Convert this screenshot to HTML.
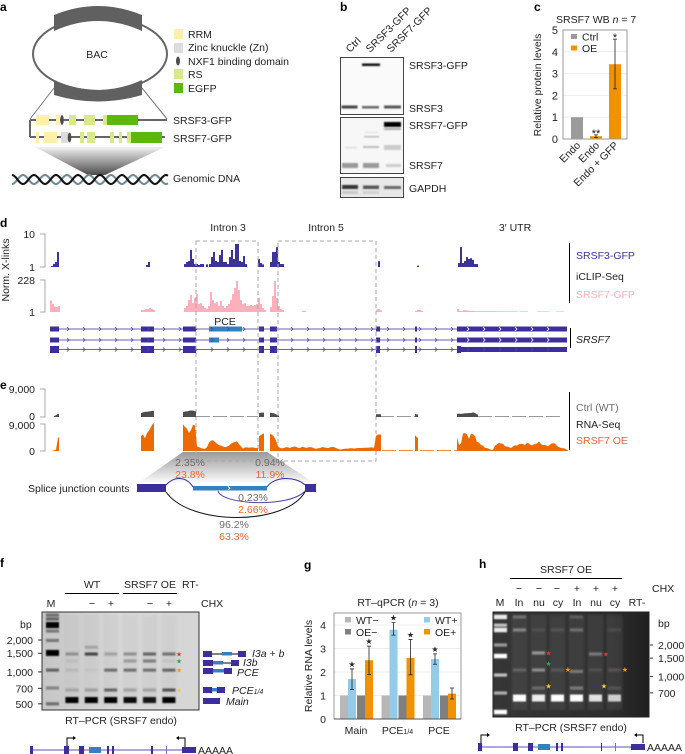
<!DOCTYPE html>
<html lang="en">
<head>
<meta charset="utf-8">
<title>SRSF7 figure</title>
<style>
html,body{margin:0;padding:0;background:#fff;}
svg{display:block;font-family:"Liberation Sans","DejaVu Sans",sans-serif;font-size:10.5px;fill:#222;filter:blur(0.3px);}
.pl{font-weight:bold;font-size:12px;fill:#000;}
.m{text-anchor:middle;}
.e{text-anchor:end;}
.dash{fill:none;stroke:#a8a8a8;stroke-width:1;stroke-dasharray:4 3;}
.gry{fill:#6b6b6b;}
.org{fill:#f2652e;}
.it{font-style:italic;}
</style>
</head>
<body>
<svg id="figure" xmlns="http://www.w3.org/2000/svg" width="685" height="754" viewBox="0 0 685 754">
<defs>
<linearGradient id="coneA" x1="0" y1="0" x2="0" y2="1"><stop offset="0" stop-color="#f2f2f2"/><stop offset="1" stop-color="#4c4c4c"/></linearGradient>
<linearGradient id="coneE" x1="0" y1="0" x2="0" y2="1"><stop offset="0" stop-color="#999"/><stop offset="1" stop-color="#ffffff"/></linearGradient>
<linearGradient id="gelF" x1="0" y1="0" x2="1" y2="0"><stop offset="0" stop-color="#c6c6c6"/><stop offset=".5" stop-color="#d8d8d8"/><stop offset="1" stop-color="#d6d6d6"/></linearGradient>
<linearGradient id="gelH" x1="0" y1="0" x2="1" y2="0"><stop offset="0" stop-color="#363636"/><stop offset=".75" stop-color="#2e2e2e"/><stop offset="1" stop-color="#1f1f1f"/></linearGradient>
<filter id="b1" x="-20%" y="-100%" width="140%" height="300%"><feGaussianBlur stdDeviation="0.8"/></filter>
<filter id="b2" x="-20%" y="-10%" width="140%" height="120%"><feGaussianBlur stdDeviation="1"/></filter>
<filter id="bandBlur" filterUnits="userSpaceOnUse" x="0" y="560" width="685" height="194"><feGaussianBlur stdDeviation="0.9"/></filter>
</defs>

<!-- panel a -->
<g>
<text class="pl" x="0" y="11">a</text>
<ellipse cx="100" cy="54" rx="67" ry="37" fill="none" stroke="#666" stroke-width="2"/>
<path d="M54 15 Q98 -3 142 15 L142 31 Q98 11 54 31 Z" fill="#606060"/>
<path d="M54 80 Q98 100 142 80 L142 95 Q98 108 54 95 Z" fill="#606060"/>
<text class="m" x="97" y="58">BAC</text>
<rect x="174" y="29" width="9" height="10" fill="#fdf0a8"/>
<rect x="174" y="43" width="9" height="10" fill="#dcdcdc"/>
<ellipse cx="178" cy="61" rx="2" ry="4.5" fill="#4e4e4e"/>
<rect x="174" y="69" width="9" height="10" fill="#d9e98a"/>
<rect x="174" y="83" width="9" height="10" fill="#5cb80c"/>
<text x="188" y="38">RRM</text>
<text x="188" y="51">Zinc knuckle (Zn)</text>
<text x="188" y="65">NXF1 binding domain</text>
<text x="188" y="78">RS</text>
<text x="188" y="92">EGFP</text>
<path d="M54 88 L30 119 M142 88 L167 119" stroke="#777" stroke-width="1" fill="none"/>
<path d="M30 120 H167 M30 120 V137 M30 137 H165" stroke="#666" stroke-width="2" fill="none"/>
<g>
<rect x="36" y="115" width="13" height="10" fill="#fdf0a8"/><rect x="56" y="115" width="4" height="10" fill="#fdf0a8"/><ellipse cx="62" cy="120" rx="1.8" ry="5" fill="#4e4e4e"/><rect x="69" y="115" width="7" height="10" fill="#d9e98a"/><rect x="84" y="115" width="11" height="10" fill="#d9e98a"/><rect x="103" y="115" width="5" height="10" fill="#d9e98a"/><rect x="107" y="115" width="31" height="10" fill="#5cb80c"/>
</g>
<g>
<rect x="36" y="132" width="3" height="11" fill="#fdf0a8"/><rect x="44" y="132" width="13" height="11" fill="#fdf0a8"/><rect x="61" y="132" width="7" height="11" fill="#dcdcdc"/><ellipse cx="69.500" cy="137.500" rx="1.800" ry="5" fill="#4e4e4e"/><rect x="80" y="132" width="4" height="11" fill="#d9e98a"/><rect x="87" y="132" width="8" height="11" fill="#d9e98a"/><rect x="110" y="132" width="4" height="11" fill="#d9e98a"/><rect x="119" y="132" width="3" height="11" fill="#d9e98a"/><rect x="127" y="132" width="4" height="11" fill="#d9e98a"/><rect x="131" y="132" width="31" height="11" fill="#5cb80c"/>
</g>
<text x="173" y="124">SRSF3-GFP</text>
<text x="173" y="142">SRSF7-GFP</text>
<polygon points="35,147 165,147 105,175 88,175" fill="url(#coneA)"/>
<g id="helix"></g>
<text x="173" y="182">Genomic DNA</text>
</g>

<!-- panel b -->
<g>
<text class="pl" x="340" y="11">b</text>
<text transform="translate(350,53) rotate(-45)">Ctrl</text>
<text transform="translate(370,53) rotate(-45)">SRSF3-GFP</text>
<text transform="translate(391,53) rotate(-45)">SRSF7-GFP</text>
<rect x="340.500" y="57.500" width="63" height="57" fill="#fafafa" stroke="#444"/>
<rect x="340.500" y="117.500" width="63" height="56" fill="#f7f7f7" stroke="#444"/>
<rect x="340.500" y="177.500" width="63" height="20" fill="#e8e8e8" stroke="#444"/>
<g filter="url(#b1)">
<rect x="362" y="63.500" width="18" height="2.500" fill="#111"/>
<rect x="341.500" y="105.500" width="16" height="3" fill="#444"/><rect x="362" y="106" width="17" height="2.500" fill="#666"/><rect x="384" y="105.500" width="17" height="3" fill="#555"/>
<rect x="384" y="122" width="17" height="5" fill="#000"/><rect x="384" y="128" width="17" height="2" fill="#aaa"/>
<rect x="364" y="136" width="15" height="1.500" fill="#bbb"/><rect x="365" y="132" width="13" height="1" fill="#ddd"/><rect x="345" y="147" width="12" height="1.500" fill="#ddd"/><rect x="363" y="146" width="16" height="2" fill="#bbb"/><rect x="384" y="145" width="17" height="5" fill="#ccc"/>
<rect x="342" y="163" width="16" height="5" fill="#999"/><rect x="363" y="163" width="16" height="5" fill="#999"/><rect x="386" y="164" width="15" height="3" fill="#ccc"/>
<rect x="342" y="185" width="16" height="4" fill="#333"/><rect x="363" y="185.500" width="16" height="3.500" fill="#555"/><rect x="384" y="186" width="17" height="3" fill="#666"/>
<rect x="342" y="191" width="16" height="3" fill="#c8c8c8"/><rect x="363" y="191" width="16" height="3" fill="#d2d2d2"/>
</g>
<text x="409" y="69">SRSF3-GFP</text>
<text x="409" y="112">SRSF3</text>
<text x="409" y="129">SRSF7-GFP</text>
<text x="409" y="169">SRSF7</text>
<text x="409" y="192">GAPDH</text>
</g>

<!-- panel c -->
<g id="panelC">
<text class="pl" x="534" y="11">c</text>
<text x="556" y="23">SRSF7 WB <tspan class="it">n</tspan> = 7</text>
<text class="m" transform="translate(541,85) rotate(-90)">Relative protein levels</text>
</g>

<!-- panel d / e static -->
<g id="panelD">
<text class="pl" x="0" y="227">d</text>
<text class="m" transform="translate(9,270) rotate(-90)">Norm. X-links</text>
<text class="e" x="35" y="238">10</text>
<text class="e" x="35" y="271">1</text>
<text class="e" x="35" y="284">228</text>
<text class="e" x="35" y="316">1</text>
<path d="M40 234H45V267H40 M40 280H45V312H40" fill="none" stroke="#aaa"/>
<text class="m" x="228" y="231">Intron 3</text>
<text class="m" x="326" y="231">Intron 5</text>
<text class="m" x="515" y="231">3′ UTR</text>
<text class="m" x="225" y="325">PCE</text>
<path d="M569.500 243V303" stroke="#000" fill="none"/>
<text x="576" y="259" fill="#3c3399" style="fill:#3c3399">SRSF3-GFP</text>
<text x="576" y="280">iCLIP-Seq</text>
<text x="576" y="298" style="fill:#fdb0bc">SRSF7-GFP</text>
<path d="M570.500 328V348" stroke="#000" fill="none"/>
<text class="it" x="576" y="343">SRSF7</text>
</g>

<g id="panelE">
<text class="pl" x="0" y="389">e</text>
<text class="e" x="35" y="393">9,000</text>
<text class="e" x="35" y="420">0</text>
<text class="e" x="35" y="429">9,000</text>
<text class="e" x="35" y="455">0</text>
<path d="M40 389H45V417H40 M40 424H45V451H40" fill="none" stroke="#aaa"/>
<path d="M569.500 392V450" stroke="#000" fill="none"/>
<text x="576" y="411" class="gry">Ctrl (WT)</text>
<text x="576" y="428">RNA-Seq</text>
<text x="576" y="444" class="org">SRSF7 OE</text>
<polygon points="183,452 267,452 316,484 137,484" fill="url(#coneE)"/>
<path d="M196 241H258V461H196Z M278 241H376V461H278Z" class="dash"/>
<text class="m gry" x="190" y="466">2.35%</text>
<text class="m org" x="190" y="478">23.8%</text>
<text class="m gry" x="270" y="466">0.94%</text>
<text class="m org" x="270" y="478">11.9%</text>
<text x="28" y="492">Splice junction counts</text>
<rect x="137" y="484" width="29" height="8" fill="#3c2f9c"/>
<rect x="305" y="484" width="11" height="8" fill="#3c2f9c"/>
<rect x="193" y="486" width="74" height="4.500" fill="#3580c0"/>
<path d="M228 486.500l2 1.700-2 1.700" stroke="#fff" fill="none"/>
<path d="M166 485 C174 476 186 476 193 487 M267 487 C274 476 296 476 305 485" fill="none" stroke="#3c2f9c"/>
<path d="M218 491 C222 505 290 508 305 491" fill="none" stroke="#4a44a8"/>
<path d="M166 492 C190 526 285 526 305 492" fill="none" stroke="#111"/>
<text class="m gry" x="253" y="501">0.23%</text>
<text class="m org" x="253" y="513">2.66%</text>
<text class="m gry" x="234" y="528">96.2%</text>
<text class="m org" x="234" y="540">63.3%</text>
</g>

<!-- panel f static -->
<g id="panelF">
<text class="pl" x="0" y="567">f</text>
<text class="m" x="92" y="588">WT</text>
<text class="m" x="150" y="588">SRSF7 OE</text>
<text x="182" y="588">RT-</text>
<path d="M65 593.500H119 M123 593.500H177" stroke="#000"/>
<text class="m" x="51" y="607">M</text>
<text class="m" x="92" y="607">−</text>
<text class="m" x="111" y="607">+</text>
<text class="m" x="150" y="607">−</text>
<text class="m" x="169" y="607">+</text>
<text x="201" y="607">CHX</text>
<rect x="42" y="612" width="157" height="98" fill="url(#gelF)" stroke="#333"/>
<g id="gelFBands"></g>
<text x="20" y="628">bp</text>
<g id="isoforms">
<path d="M212 654H222 M232 654H238 M223 663H231" stroke="#000" fill="none"/>
<rect x="203" y="651" width="9" height="6" fill="#3c2f9c"/><rect x="222" y="652" width="10" height="3.500" fill="#3580c0"/><rect x="238" y="651" width="8" height="6" fill="#3c2f9c"/>
<rect x="203" y="660" width="10" height="6" fill="#3c2f9c"/><rect x="213" y="661" width="10" height="3.500" fill="#3580c0"/><rect x="231" y="660" width="8" height="6" fill="#3c2f9c"/>
<rect x="203" y="668" width="10" height="6" fill="#3c2f9c"/><rect x="213" y="669" width="11" height="3.500" fill="#3580c0"/><rect x="224" y="668" width="8" height="6" fill="#3c2f9c"/>
<rect x="203" y="687" width="9" height="6" fill="#3c2f9c"/><rect x="212" y="688" width="5" height="3.500" fill="#3580c0"/><rect x="217" y="687" width="8" height="6" fill="#3c2f9c"/>
<rect x="203" y="698" width="17" height="6" fill="#3c2f9c"/>
</g>
<text class="it" x="252" y="657">I3a + b</text>
<text class="it" x="243" y="666">I3b</text>
<text class="it" x="237" y="676">PCE</text>
<text class="it" x="232" y="694">PCE<tspan font-size="7">1/4</tspan></text>
<text class="it" x="226" y="705">Main</text>
<text class="m" x="121" y="724">RT–PCR (SRSF7 endo)</text>
<g>
<path d="M30 750H195" stroke="#5a52b0" fill="none"/>
<rect x="30" y="746" width="3" height="8" fill="#3c2f9c"/><rect x="64" y="746" width="5" height="8" fill="#3c2f9c"/><rect x="79" y="746" width="5" height="8" fill="#3c2f9c"/><rect x="89" y="747" width="12" height="6" fill="#3580c0"/><rect x="107" y="746" width="2" height="8" fill="#3c2f9c"/><rect x="112" y="746" width="2" height="8" fill="#3c2f9c"/><rect x="151" y="746" width="2" height="8" fill="#3c2f9c"/><rect x="166" y="746" width="1" height="8" fill="#7a72c0"/><rect x="182" y="747" width="14" height="6" fill="#3c2f9c"/>
<path d="M67 746V738H73 M185 747V738H179" stroke="#000" fill="none"/><path d="M73 736l3 2-3 2Z M179 736l-3 2 3 2Z" fill="#000"/>
</g>
<text x="198" y="754">AAAAA</text>
</g>

<!-- panel g static -->
<g id="panelG">
<text class="pl" x="304" y="569">g</text>
<text class="m" x="398" y="606">RT–qPCR (<tspan class="it">n</tspan> = 3)</text>
<text class="m" transform="translate(312,666) rotate(-90)">Relative RNA levels</text>
</g>

<!-- panel h static -->
<g id="panelH">
<text class="pl" x="479" y="568">h</text>
<text class="m" x="566" y="573">SRSF7 OE</text>
<path d="M510 578.500H622" stroke="#000"/>
<g class="m"><text x="519" y="592">−</text><text x="539" y="592">−</text><text x="557" y="592">−</text><text x="577" y="592">+</text><text x="596" y="592">+</text><text x="615" y="592">+</text></g>
<text x="652" y="592">CHX</text>
<g class="m"><text x="500" y="606">M</text><text x="519" y="606">In</text><text x="539" y="606">nu</text><text x="558" y="606">cy</text><text x="577" y="606">In</text><text x="596" y="606">nu</text><text x="615" y="606">cy</text><text x="637" y="606">RT-</text></g>
<rect x="493" y="612" width="156" height="105" fill="url(#gelH)" stroke="#222"/>
<g id="gelHBands"></g>
<text x="658" y="627">bp</text>
<text class="m" x="571" y="731">RT–PCR (SRSF7 endo)</text>
<g>
<path d="M478 747H645" stroke="#5a52b0" fill="none"/>
<rect x="478" y="743" width="4" height="8" fill="#3c2f9c"/><rect x="513" y="743" width="5" height="8" fill="#3c2f9c"/><rect x="528" y="743" width="5" height="8" fill="#3c2f9c"/><rect x="538" y="744" width="12" height="6" fill="#3580c0"/><rect x="556" y="743" width="2" height="8" fill="#3c2f9c"/><rect x="561" y="743" width="2" height="8" fill="#3c2f9c"/><rect x="601" y="743" width="1" height="8" fill="#3c2f9c"/><rect x="615" y="743" width="1" height="8" fill="#7a72c0"/><rect x="631" y="744" width="14" height="6" fill="#3c2f9c"/>
<path d="M481 743V735H487 M643 743V735H637" stroke="#000" fill="none"/><path d="M487 733l3 2-3 2Z M637 733l-3 2 3 2Z" fill="#000"/>
</g>
<text x="647" y="751">AAAAA</text>
</g>
</svg>

<script>
// Panel c data
const cCategories = ['Endo', 'Endo', 'Endo + GFP'];
const cSeries = ['Ctrl', 'OE', 'OE'];
const cValues = [1, 0.13, 3.43];
const cErrLow = [1, 0.07, 2.3];
const cErrHigh = [1, 0.19, 4.58];
const cSignif = ['', '**', '*'];
const cTicks = [0, 1, 2, 3, 4, 5];

// Panel g data
const gCategories = ['Main', 'PCE1/4', 'PCE'];
const gSeriesNames = ['WT−', 'WT+', 'OE−', 'OE+'];
const gWtMinus = [1, 1, 1];
const gWtPlus = [1.7, 3.8, 2.55];
const gOeMinus = [1, 1, 1];
const gOePlus = [2.5, 2.6, 1.08];
const gWtPlusLow = [1.25, 3.57, 2.33];
const gWtPlusHigh = [2.13, 4.1, 2.77];
const gOePlusLow = [1.9, 1.88, 0.85];
const gOePlusHigh = [3.1, 3.38, 1.32];
const gTicks = [0, 1, 2, 3, 4];

// Panel d data: [genomic start, values every 2 bins]
const clipSrsf3 = [
  [51, [1.07, 1.23, 1.4, 2.85]],
  [146, [1.15, 1.42]],
  [184, [1.23, 1.42, 1.52, 3.3, 1.75, 1.23, 1.23, 1.15, 1.23, 1.23]],
  [206, [1.2]],
  [209, [1.23, 2, 2.85, 1.52, 1.42, 2.3, 3.3, 1.42, 1.42, 1.23, 2, 3.3, 1.75, 5, 5, 1.52, 1.42, 2.15, 1.23]],
  [258, [1.75, 1.32, 1.2]],
  [270, [1.42, 2.85, 2.85, 4, 1.42, 1.23, 1.23]],
  [378, [1.5]],
  [417, [1.1]],
  [458, [1.32, 4, 1.32, 1.52, 2, 1.75, 1.85, 1.65, 1.23, 1.23]]
];
const clipSrsf7 = [
  [50, [7, 4, 2.5, 2.3, 2.8]],
  [141, [1.4, 1.4, 1.7, 1.7, 2, 1.7, 1.4]],
  [184, [2, 2.8, 7.6, 18, 4.5, 11, 21, 3.9, 4.5, 2.8, 2, 1.7, 2.8, 30, 7.6, 4.5, 5.4, 2.8, 6.4, 2.8, 2, 2.8, 3.9, 7.6, 21, 59, 190, 41, 7.6, 3.9, 4.5, 2.8, 2.8, 3.3, 2.8, 3.3, 3.9, 11, 3.9, 2, 1.4]],
  [270, [2.3, 15, 190, 11, 2.8, 1.7, 1.4]],
  [302, [1.2, 1.2]],
  [376, [1.5, 1.7, 1.3]],
  [415, [1.2, 1.4, 1.4, 1.2]],
  [457, [1.7, 1.2, 1.2, 1.4, 1.3, 1.3, 1.2, 1.2, 1.2, 1.15, 1.15, 1.15, 1.15, 1.15, 1.15, 1.15, 1.15, 1.15, 1.15, 1.15]],
  [497, [1.12, 1.12, 1.12, 1.12, 1.12, 1.12, 1.12, 1.12, 1.12, 1.12]],
  [520, [1.1, 1.1, 1.1, 1.1]],
  [537, [1.1, 1.1, 1.1, 1.1, 1.1, 1.1]],
  [556, [1.1, 1.1, 1.1, 1.1]]
];
const exonStarts = [50, 141, 183, 259, 270, 376, 415];
const exonEnds = [59, 154, 196, 264, 277, 380, 417];
const utrStart = 457;
const utrEnd = 567;
const pceRow1 = [209, 242];
const pceRow2 = [209, 219];

// Panel e data: [genomic start, reads every 2 bins]
const rnaCtrl = [
  [54, [300, 600, 1000]],
  [141, [1300, 1500, 1700, 1700, 1800, 1900, 2000]],
  [183, [1500, 1800, 1800, 2000, 2100, 2100, 1800]],
  [259, [1200, 1400, 1400]],
  [270, [1400, 1300, 1200, 900, 500]],
  [376, [900, 900, 900]],
  [415, [1000, 800]],
  [457, [1000, 1100, 1000, 1100, 1200, 1200, 1300, 1300, 1500, 1300, 800]]
];
const rnaOe = [
  [52, [100, 200, 400, 4500]],
  [141, [5000, 5500, 4200, 6000, 6800, 8000, 9200]],
  [183, [9000, 8000, 7400, 6000, 7000, 8800, 8500, 1500, 1300, 1000, 800, 700, 1300, 2800, 3500, 3600, 3000, 2400, 2000, 1800, 1500, 1300, 1500, 1800, 2400, 2800, 3000, 3200, 2300, 1500, 800, 1200, 1200, 1100, 1200, 1200, 1000, 1000]],
  [259, [5000, 5300, 5800]],
  [270, [5800, 5400, 4800, 3500, 1500, 1000, 900, 1000, 1300, 1200, 1000, 1300, 1500, 1400, 1100, 1000, 1400, 1300, 1000, 1200, 1300, 1200, 900, 700, 900, 1000, 1300, 1200, 1100, 1000, 1200, 1400, 1300, 1000, 700, 500, 600, 700, 800, 800, 900, 900, 800, 900, 1000, 1000, 1000, 1100, 1100, 1100, 1200, 1200, 1100, 5000, 5500, 5500]],
  [415, [5300, 4500]],
  [457, [4700, 2000, 2500, 5800, 6000, 5500, 4000, 5800, 5600, 5000, 3000, 2800, 2000, 1800, 1000, 1000, 700, 400, 400, 1800, 2200, 2700, 2500, 2400, 1600, 1500, 1300, 1000, 1500, 1900, 1800, 2300, 2400, 2300, 2000, 2700, 2500, 1900, 2100, 2300, 2500, 3200, 2300, 2000, 2000, 1700, 1800, 2400, 2600, 2500, 1700, 1300, 1000, 900, 800, 300]]
];

// Gel data: [lane index, size in bp, intensity]
const gelFTicks = [2000, 1500, 1000, 700, 500];
const gelFBands = [
  [0,3440,.45],[0,3160,.5],[0,2767,1],[0,2430,.4],[0,1980,.4],[0,1510,1],[0,1040,.5],[0,705,.35],[0,500,.45],
  [1,1475,.28],[1,1268,.06],[1,1040,.08],[1,675,.18],[1,543,1],
  [2,1710,.2],[2,1475,.65],[2,1040,.04],[2,675,.22],[2,543,1],
  [3,1475,.22],[3,1040,.45],[3,675,.5],[3,543,1],
  [4,1475,.3],[4,1268,.25],[4,1040,.45],[4,675,.22],[4,543,.95],
  [5,1475,.5],[5,1268,.38],[5,1040,.45],[5,675,.22],[5,543,.9],
  [6,1475,.45],[6,1268,.06],[6,1040,.5],[6,675,.6],[6,543,1]
];
const gelHTicks = [2000, 1500, 1000, 700];
const gelHBands = [
  [0,3700,.9],[0,3090,.7],[0,2780,.9],[0,2000,.5],[0,1570,1],[0,1035,.7],[0,698,.6],[0,460,1],
  [1,3700,.25],[1,2780,.35],[1,1156,.18],[1,625,1],
  [2,2780,.08],[2,1680,.45],[2,1156,.4],[2,778,.22],[2,625,.9],
  [3,2780,.1],[3,1156,.12],[3,625,1],
  [4,3700,.16],[4,2780,.25],[4,1120,.3],[4,778,.3],[4,625,1],
  [5,1640,.3],[5,1156,.1],[5,625,.85],
  [6,2780,.08],[6,1156,.12],[6,778,.12],[6,625,.75]
];
const starNames = ['red', 'green', 'orange', 'yellow'];
const starColors = ['#d83a3a', '#2fa84a', '#ef9a1a', '#f3d41c'];
const gelFStars = [[0,1475],[1,1268],[2,1040],[3,675]];
const gelHStars = [[0,1680,2.53],[1,1340,2.53],[3,815,2.53],[2,1170,3.55],[3,815,5.45],[0,1640,5.55],[2,1170,6.55]];

const NS = 'http://www.w3.org/2000/svg';
const root = document.getElementById('figure');
function mk(tag, attrs, parent) {
  const el = document.createElementNS(NS, tag);
  for (const k in attrs) el.setAttribute(k, attrs[k]);
  (parent || root).appendChild(el);
  return el;
}
function label(parent, x, y, str, anchor, size, fill) {
  const t = mk('text', {x: x, y: y, 'text-anchor': anchor || 'start'}, parent);
  if (size) t.style.fontSize = size + 'px';
  if (fill) t.style.fill = fill;
  t.textContent = str;
  return t;
}

/* ---------- panel a helix ---------- */
(function () {
  const g = document.getElementById('helix');
  [[0, '#6f8a98'], [11, '#111']].forEach(function (cfg, idx) {
    let d = '';
    for (let x = 12; x <= 168; x += 1) {
      const y = 179.5 + 4.5 * Math.cos((x - 12 + cfg[0]) * Math.PI / 11);
      d += (x === 12 ? 'M' : 'L') + x + ' ' + y.toFixed(1);
    }
    const p = mk('path', {d: d, fill: 'none', stroke: cfg[1], 'stroke-width': 2.1}, g);
    
    
  });
})();

/* ---------- panel c ---------- */
const cAreaG = document.getElementById('panelC');
function cY(v) { return 139 - v * 21.8; }
function cX(i) { return 571 + 19 * i; }
cTicks.forEach(function (t) {
  if (t > 0 && t < 5) {
    const gl = mk('line', {x1: 563, x2: 627, y1: cY(t), y2: cY(t), stroke: '#eee'}, cAreaG);
    
    
  }
  const tl = label(cAreaG, 558, cY(t) + 4, String(t), 'end', 11);
  
  
});
cValues.forEach(function (v, i) {
  const r = mk('rect', {x: cX(i), y: cY(v), width: 12, height: cY(0) - cY(v), fill: cSeries[i] === 'Ctrl' ? '#9b9b9b' : '#f39200'}, cAreaG);
  
  
  if (cErrHigh[i] !== cErrLow[i]) {
    const cx = cX(i) + 6;
    const eb = mk('path', {d: 'M' + cx + ' ' + cY(cErrLow[i]) + 'V' + cY(cErrHigh[i]) + 'M' + (cx - 2) + ' ' + cY(cErrLow[i]) + 'h4M' + (cx - 2) + ' ' + cY(cErrHigh[i]) + 'h4', stroke: '#222', fill: 'none', 'stroke-width': .8}, cAreaG);
    
    
  }
  if (cSignif[i]) {
    const st = label(cAreaG, cX(i) + 6, cY(cErrHigh[i]) + 2, cSignif[i], 'middle', 11, '#111');
    
    
  }
  const xl = mk('text', {transform: 'translate(' + (cX(i) + 10) + ',146) rotate(-45)', 'text-anchor': 'end'}, cAreaG);
  xl.textContent = cCategories[i];
  
  
});
const cFrame = mk('path', {d: 'M563 30H627V139H563Z', fill: 'none', stroke: '#999'}, cAreaG);


['Ctrl', 'OE'].forEach(function (n, i) {
  const sw = mk('rect', {x: 571, y: 34 + 11.5 * i, width: 6, height: 5, fill: i ? '#f39200' : '#9b9b9b'}, cAreaG);
  
  
  const tx = label(cAreaG, 582, 40.500 + 11.5 * i, n);
  
  
});

/* ---------- panel d ---------- */
const dG = document.getElementById('panelD');
function gx(pos) { return pos; }
function yClip3(v) { return 267 - Math.log10(v) * 33; }
function yClip7(v) { return 312 - Math.log10(v) / Math.log10(228) * 32; }
function drawClip(segs, yf, base, color, nm) {
  segs.forEach(function (seg) {
    seg[1].forEach(function (v, i) {
      const x = gx(seg[0] + i * 2);
      const b = mk('rect', {x: x, y: yf(v), width: 2, height: base - yf(v), fill: color}, dG);
      
      
    });
  });
}
drawClip(clipSrsf3, yClip3, 267, '#3c3399', 'srsf3-xlink-bar');
drawClip(clipSrsf7, yClip7, 312, '#fdb0bc', 'srsf7-xlink-bar');

[[329, 5], [340, 5], [349.500, 7]].forEach(function (row, r) {
  const ln = mk('line', {x1: gx(50), x2: gx(utrEnd), y1: row[0], y2: row[0], stroke: '#6a62bc', 'stroke-width': 1}, dG);
  
  
  exonStarts.forEach(function (s, i) {
    const ex = mk('rect', {x: gx(s), y: row[0] - row[1] / 2, width: gx(exonEnds[i]) - gx(s), height: row[1], fill: '#3c2f9c'}, dG);
    
    
  });
  const utr = mk('rect', {x: gx(utrStart), y: row[0] - 2.5, width: gx(utrEnd) - gx(utrStart), height: 5, fill: '#3c2f9c'}, dG);
  
  
  if (r === 2) {
    const stub = mk('rect', {x: gx(utrStart), y: row[0] - 3.5, width: 4, height: 7, fill: '#3c2f9c'}, dG);
    
    
  }
  const pce = r === 0 ? pceRow1 : r === 1 ? pceRow2 : null;
  if (pce) {
    const pr = mk('rect', {x: gx(pce[0]), y: row[0] - 2.5, width: gx(pce[1]) - gx(pce[0]), height: 5, fill: '#3580c0'}, dG);
    
    
  }
  if (r < 3) {
    for (let x = 67; x < 560; x += 16) {
      const inUtr = x > utrStart && r < 2;
      const ch = mk('path', {d: 'M' + x + ' ' + (row[0] - 2) + 'l2 2-2 2', fill: 'none', stroke: inUtr ? '#fff' : '#4a44a8', 'stroke-width': .8}, dG);
      
      
    }
  }
});

/* ---------- panel e ---------- */
const eG = document.getElementById('panelE');
function yCtrl(v) { return 417 - v / 9000 * 28; }
function yOe(v) { return 451 - v / 9000 * 27; }
function drawArea(segs, yf, base, color, nm) {
  segs.forEach(function (seg) {
    let pts = gx(seg[0]) + ',' + base;
    seg[1].forEach(function (v, i) { pts += ' ' + gx(seg[0] + i * 2) + ',' + yf(v); });
    pts += ' ' + gx(seg[0] + (seg[1].length - 1) * 2 + 1) + ',' + yf(seg[1][seg[1].length - 1]);
    pts += ' ' + gx(seg[0] + (seg[1].length - 1) * 2 + 1) + ',' + base;
    const a = mk('polygon', {points: pts, fill: color}, eG);
    
    
  });
}
const ctrlBase = mk('path', {d: 'M196 416.500H258 M380 416.500H415 M478 416.500H562', stroke: '#777', 'stroke-dasharray': '14 3', fill: 'none', 'stroke-width': .8}, eG);


const oeBase = mk('path', {d: 'M382 450.500H413 M420 450.500H457', stroke: '#ee6a00', 'stroke-dasharray': '14 3', fill: 'none', 'stroke-width': .8}, eG);


drawArea(rnaCtrl, yCtrl, 417, '#4d4d4d', 'ctrl-coverage-area');
drawArea(rnaOe, yOe, 451, '#ee6a00', 'oe-coverage-area');

/* ---------- gels ---------- */
function yGelF(bp) { return 640 + (Math.log10(2000) - Math.log10(bp)) * 106; }
function yGelH(bp) { return 645 + (Math.log10(2000) - Math.log10(bp)) * 105; }
function xGelF(l) { return 52.5 + 19.4 * l; }
function xGelH(l) { return 500.5 + 19 * l; }
const gelFG = document.getElementById('gelFBands');
const gelHG = document.getElementById('gelHBands');
[1, 2, 3, 4, 5, 6].forEach(function (l) {
  const sm = mk('rect', {x: xGelF(l) - 8, y: 615, width: 16, height: 90, fill: '#c0c0c0', opacity: .3, filter: 'url(#b2)'}, gelFG);
  
  
  const sh = mk('rect', {x: xGelH(l) - 8, y: 615, width: 16, height: 95, fill: '#777', opacity: .2, filter: 'url(#b2)'}, gelHG);
  
  
});
const gelFBlur = mk('g', {filter: 'url(#bandBlur)'}, gelFG);


const gelHBlur = mk('g', {filter: 'url(#bandBlur)'}, gelHG);


gelFBands.forEach(function (b) {
  const h = b[2] > .8 ? 6 : 3.2;
  const r = mk('rect', {x: xGelF(b[0]) - 6.5, y: yGelF(b[1]) - h / 2, width: 13, height: h, fill: '#000', opacity: b[2]}, gelFBlur);
  
  
});
gelHBands.forEach(function (b) {
  const h = (b[2] > .7 && b[1] < 900 && b[0] > 0) ? 7 : (b[2] > .8 ? 4.5 : 3.2);
  const r = mk('rect', {x: xGelH(b[0]) - 6.5, y: yGelH(b[1]) - h / 2, width: 13, height: h, fill: '#fff', opacity: b[2]}, gelHBlur);
  
  
});
function starText(parent, x, y, color, name) {
  const s = mk('text', {x: x, y: y + 2.5, 'text-anchor': 'middle'}, parent);
  s.style.fontSize = '7px';
  s.style.fontFamily = '"DejaVu Sans",sans-serif';
  s.style.fill = color;
  s.textContent = '★';
  
  
}
gelFStars.forEach(function (s) {
  starText(gelFG, 179, yGelF(s[1]), starColors[s[0]], 'gel-f-star-' + starNames[s[0]]);
});
gelHStars.forEach(function (s) {
  starText(gelHG, xGelH(s[2]), yGelH(s[1]), starColors[s[0]], 'gel-h-star-' + starNames[s[0]]);
});
gelFTicks.forEach(function (t) {
  const y = yGelF(t);
  const tk = mk('line', {x1: 38, x2: 42, y1: y, y2: y, stroke: '#333'}, gelFG);
  
  
  const tl = label(gelFG, 33, y + 4, t.toLocaleString('en-US'), 'end');
  
  
});
gelHTicks.forEach(function (t) {
  const y = yGelH(t);
  const tk = mk('line', {x1: 650, x2: 653, y1: y, y2: y, stroke: '#333'}, gelHG);
  
  
  const tl = label(gelHG, 658, y + 4, t.toLocaleString('en-US'));
  
  
});

/* ---------- panel g ---------- */
const gG = document.getElementById('panelG');
function qY(v) { return 719 - v * 23.5; }
function qX(group, s) { return 340 + group * 41.5 + s * 8 + (s >= 2 ? 1 : 0); }
gTicks.forEach(function (t) {
  if (t > 0) {
    const gl = mk('line', {x1: 334, x2: 461, y1: qY(t), y2: qY(t), stroke: '#eee'}, gG);
    
    
  }
  const tl = label(gG, 326, qY(t) + 4, String(t), 'end', 10.5);
  
  
});
const qSeries = [gWtMinus, gWtPlus, gOeMinus, gOePlus];
const qLow = [null, gWtPlusLow, null, gOePlusLow];
const qHigh = [null, gWtPlusHigh, null, gOePlusHigh];
const qColors = ['#b7b7b7', '#93cbe8', '#7f7f7f', '#f39200'];
qSeries.forEach(function (vals, s) {
  vals.forEach(function (v, c) {
    const x = qX(c, s);
    const r = mk('rect', {x: x, y: qY(v), width: 8, height: qY(0) - qY(v), fill: qColors[s]}, gG);
    
    
    if (qLow[s]) {
      const cx = x + 4;
      const hi = qY(qHigh[s][c]);
      const lo = qY(qLow[s][c]);
      const eb = mk('path', {d: 'M' + cx + ' ' + lo + 'V' + hi + 'M' + (cx - 2) + ' ' + lo + 'h4M' + (cx - 2) + ' ' + hi + 'h4', stroke: '#222', fill: 'none', 'stroke-width': .8}, gG);
      
      
      if (!(s === 3 && c === 2)) {
        const st = label(gG, cx, hi - 2, '★', 'middle', 8, '#222');
        st.style.fontFamily = '"DejaVu Sans",sans-serif';
        
        
      }
    }
  });
});
const qFrame = mk('path', {d: 'M334 613H461V719H334Z', fill: 'none', stroke: '#999'}, gG);


const qBase = mk('line', {x1: 334, x2: 461, y1: 719, y2: 719, stroke: '#555'}, gG);


gCategories.forEach(function (c, i) {
  const cx = qX(i, 2) - 1;
  const t = mk('text', {x: cx, y: 734, 'text-anchor': 'middle'}, gG);
  if (c.indexOf('1/4') > 0) {
    t.textContent = 'PCE';
    const sub = mk('tspan', {'font-size': 7}, t);
    sub.textContent = '1/4';
  } else {
    t.textContent = c;
  }
  
  
});
gSeriesNames.forEach(function (n, i) {
  const col = (i === 1 || i === 3) ? 1 : 0;
  const rowI = i < 2 ? 0 : 1;
  const sx = col ? 424 : 345;
  const sw = mk('rect', {x: sx, y: 617 + rowI * 12, width: 6, height: 5.5, fill: qColors[i]}, gG);
  
  
  const tx = label(gG, sx + 11, 624 + rowI * 12, n);
  
  
});
</script>
</body>
</html>
